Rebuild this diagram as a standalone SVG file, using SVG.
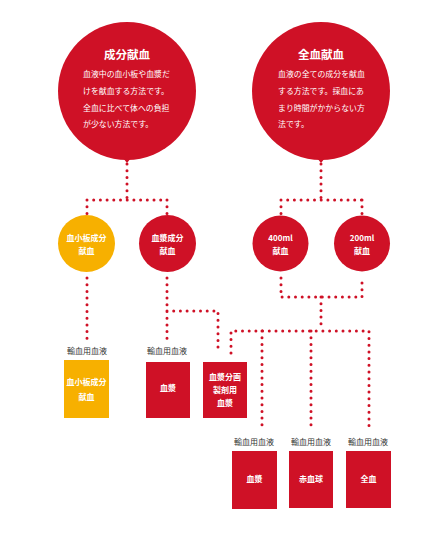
<svg xmlns="http://www.w3.org/2000/svg" width="430" height="541" viewBox="0 0 430 541">
<style>
.red{fill:#cf1126}
.yel{fill:#f7b000}
.dot{fill:none;stroke:#cf1126;stroke-width:3;stroke-linecap:round;stroke-dasharray:0 6.7}
text{font-family:"Noto Sans CJK JP","Noto Sans",sans-serif}
.t{fill:#fff;font-weight:bold;text-anchor:middle}
.title{font-size:11.5px}
.body{fill:#fff;font-size:7.9px}
.n{font-size:8px}
.lab{fill:#333;font-size:8px;text-anchor:middle}
</style>
<rect width="430" height="541" fill="#fff"/>
<g id="connectors">
<path class="dot" d="M127,164 V200 M87,200 H167 M87,200 V214 M167,200 V214"/>
<path class="dot" d="M321,164 V200 M281,200 H362 M281,200 V214 M362,200 V214"/>
<path class="dot" d="M87,278 V340"/>
<path class="dot" d="M167,278 V342 M167,311 H218 V353"/>
<path class="dot" d="M281,278 V297 H362 V278 M321,297 V324"/>
<path class="dot" d="M231,353 V331 H369 V426 M262,331 V426 M311,331 V426"/>
</g>
<g id="node-seibun">
<circle class="red" cx="127" cy="91" r="69"/>
<path class="red" d="M123,158 L127,163 L131,158 Z"/>
<text class="t title" x="127" y="59">成分献血</text>
<text class="body" x="83" y="77">血液中の血小板や血漿だ</text>
<text class="body" x="83" y="94">けを献血する方法です。</text>
<text class="body" x="83" y="111">全血に比べて体への負担</text>
<text class="body" x="83" y="127">が少ない方法です。</text>
</g>
<g id="node-zenketsu">
<circle class="red" cx="321" cy="91" r="69"/>
<path class="red" d="M317,158 L321,163 L325,158 Z"/>
<text class="t title" x="321" y="59">全血献血</text>
<text class="body" x="278" y="77">血液の全ての成分を献血</text>
<text class="body" x="278" y="94">する方法です。採血にあ</text>
<text class="body" x="278" y="111">まり時間がかからない方</text>
<text class="body" x="278" y="127">法です。</text>
</g>
<g id="node-kesshoban">
<circle class="yel" cx="86.5" cy="243.5" r="28.5"/>
<text class="t n" x="86.5" y="241">血小板成分</text>
<text class="t n" x="86.5" y="254">献血</text>
</g>
<g id="node-kessho">
<circle class="red" cx="167.5" cy="243.5" r="28.5"/>
<text class="t n" x="167.5" y="241">血漿成分</text>
<text class="t n" x="167.5" y="254">献血</text>
</g>
<g id="node-400">
<circle class="red" cx="280.5" cy="243.5" r="28"/>
<text class="t n" x="280.5" y="241">400ml</text>
<text class="t n" x="280.5" y="254">献血</text>
</g>
<g id="node-200">
<circle class="red" cx="362" cy="243.5" r="28"/>
<text class="t n" x="362" y="241">200ml</text>
<text class="t n" x="362" y="254">献血</text>
</g>
<g id="box-kesshoban">
<text class="lab" x="87" y="354">輸血用血液</text>
<rect class="yel" x="64" y="360" width="45" height="58"/>
<text class="t n" x="86.5" y="385">血小板成分</text>
<text class="t n" x="86.5" y="400">献血</text>
</g>
<g id="box-kessho1">
<text class="lab" x="167" y="354">輸血用血液</text>
<rect class="red" x="146" y="362" width="44" height="56"/>
<text class="t n" x="168" y="391">血漿</text>
</g>
<g id="box-bunkaku">
<rect class="red" x="203" y="362" width="44" height="56"/>
<text class="t n" x="225" y="380">血漿分画</text>
<text class="t n" x="225" y="393">製剤用</text>
<text class="t n" x="225" y="406">血漿</text>
</g>
<g id="box-kessho2">
<text class="lab" x="254" y="445">輸血用血液</text>
<rect class="red" x="232" y="451" width="45" height="58"/>
<text class="t n" x="254.5" y="482">血漿</text>
</g>
<g id="box-sekkekkyu">
<text class="lab" x="311" y="445">輸血用血液</text>
<rect class="red" x="289" y="451" width="44" height="57"/>
<text class="t n" x="311" y="482">赤血球</text>
</g>
<g id="box-zenketsu">
<text class="lab" x="368" y="445">輸血用血液</text>
<rect class="red" x="346" y="451" width="45" height="57"/>
<text class="t n" x="368.5" y="482">全血</text>
</g>
</svg>
